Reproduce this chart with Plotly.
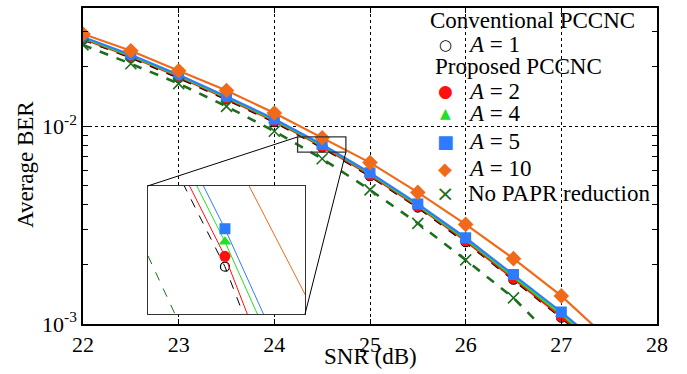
import math
import plotly.graph_objects as go

# ---------------- data ----------------
SNR = [22, 22.5, 23, 23.5, 24, 24.5, 25, 25.5, 26, 26.5, 27, 27.5]
BER_A1 = [0.0275, 0.0223, 0.0176, 0.01370, 0.01052, 0.00783, 0.00561, 0.00389, 0.00260, 0.00168, 0.00108, 0.00067]
BER_A2 = [0.0277, 0.0225, 0.0178, 0.01382, 0.01062, 0.00790, 0.00566, 0.00393, 0.00263, 0.00170, 0.00109, 0.00068]
BER_A4 = [0.0280, 0.0227, 0.0180, 0.01399, 0.01075, 0.00800, 0.00574, 0.00398, 0.00268, 0.00174, 0.00112, 0.00070]
BER_A5 = [0.0283, 0.0230, 0.0182, 0.01416, 0.01088, 0.00809, 0.00582, 0.00405, 0.00273, 0.00178, 0.00115, 0.00072]
BER_A10 = [0.0293, 0.0241, 0.0191, 0.01517, 0.01166, 0.00874, 0.00655, 0.00463, 0.00319, 0.00214, 0.001387, 0.00083]
BER_NOPAPR = [0.0258, 0.0207, 0.01644, 0.0126, 0.00944, 0.00685, 0.00477, 0.00323, 0.00211, 0.001355, 0.00077, 0.00045]

SERIES_NAMES = ["<i>A</i> = 1", "<i>A</i> = 2", "<i>A</i> = 4", "<i>A</i> = 5",
                "<i>A</i> = 10", "No PAPR reduction"]
GROUP_TITLES = ["Conventional PCCNC", "Proposed PCCNC"]

X_TICKS = [22, 23, 24, 25, 26, 27, 28]
Y_TICKS = [1e-3, 1e-2]
Y_TICKTEXT = ["10<sup>-3</sup>", "10<sup>-2</sup>"]
Y_MINOR = [2e-3, 3e-3, 4e-3, 5e-3, 6e-3, 7e-3, 8e-3, 9e-3, 2e-2, 3e-2]

X_RANGE = [22, 28]
Y_LOG_RANGE = [-3, -1.402]

# zoomed region (marked by rectangle) and inset placement
ZOOM_X = [24.243, 24.748]
ZOOM_Y = [0.0074, 0.00883]
INSET_X_RANGE = [24.277, 24.732]
INSET_Y_LOG_RANGE = [-2.124, -2.076]
INSET_DOM_X = [0.1132, 0.3868]
INSET_DOM_Y = [0.0314, 0.4371]

# figure geometry (pixels)
W, H = 687, 374
ML, MR, MT, MB = 83, 30, 6, 50
PW, PH = W - ML - MR, H - MT - MB

FONT = "Liberation Serif"
C_A1 = "black"
C_A2 = "#ff1010"
C_A4 = "#22e022"
C_A5 = "#2d7cff"
C_A10 = "#f06a1a"
C_NP = "#1e6e1e"

STYLE = [
    # color, symbol, dash, marker size, legend glyph, glyph size
    (C_A1, "circle-open", "dash", 9, "○", 15),
    (C_A2, "circle", "solid", 11, "●", 17),
    (C_A4, "triangle-up", "solid", 11, "▲", 14),
    (C_A5, "square", "solid", 11, "■", 18),
    (C_A10, "diamond", "solid", 12, "◆", 18),
    (C_NP, "x-thin", "dash", 11, "×", 22),
]
DATA = [BER_A1, BER_A2, BER_A4, BER_A5, BER_A10, BER_NOPAPR]

fig = go.Figure()

for axes, lw_s, lw_d, mlw in ((("x", "y")), 2.2, 2.6, 1.6), ((("x2", "y2")), 1.0, 1.0, 1.2):
    pass

for (xa, ya, lw_s, lw_d, mlw) in (("x", "y", 2.2, 2.6, 1.6), ("x2", "y2", 1.0, 1.0, 1.2)):
    for data, (col, sym, dash, msz, g, gs) in zip(DATA, STYLE):
        mk = dict(symbol=sym, size=msz, color=col)
        if sym in ("circle-open", "x-thin"):
            mk["line"] = dict(color=col, width=mlw)
        fig.add_trace(go.Scatter(
            x=SNR, y=data, mode="lines+markers", showlegend=False,
            line=dict(color=col, width=lw_s if dash == "solid" else lw_d,
                      dash="dash" if dash == "dash" else "solid"),
            marker=mk, xaxis=xa, yaxis=ya, hoverinfo="skip"))


def xp(v):
    return (v - X_RANGE[0]) / (X_RANGE[1] - X_RANGE[0])


def yp(v):
    return (math.log10(v) - Y_LOG_RANGE[0]) / (Y_LOG_RANGE[1] - Y_LOG_RANGE[0])


def px_x(p):
    return (p - ML) / PW


def px_y(p):
    return (H - MB - p) / PH


rx0, rx1 = xp(ZOOM_X[0]), xp(ZOOM_X[1])
ry0, ry1 = yp(ZOOM_Y[0]), yp(ZOOM_Y[1])

shapes = [
    dict(type="rect", xref="paper", yref="paper", x0=rx0, x1=rx1, y0=ry0, y1=ry1,
         line=dict(color="#333333", width=1.3)),
    dict(type="line", xref="paper", yref="paper", x0=rx0, y0=ry1,
         x1=INSET_DOM_X[0], y1=INSET_DOM_Y[1], line=dict(color="black", width=1)),
    dict(type="line", xref="paper", yref="paper", x0=rx1, y0=ry0,
         x1=INSET_DOM_X[1], y1=INSET_DOM_Y[0], line=dict(color="black", width=1)),
]

# legend built from annotations (pixel layout positions)
LEG_FONT = 23
LEG_SYM_X = 445
LEG_TEXT_X = 466
LEG_TITLE_X = [428, 433]
LEG_TITLE_Y = [19, 65]
LEG_ROW_Y = [43, 90, 112, 140, 168, 193]

annotations = [
    dict(text="SNR (dB)", xref="paper", yref="paper", x=0.5, y=px_y(357),
         xanchor="center", yanchor="middle", showarrow=False,
         font=dict(family=FONT, size=23)),
    dict(text="Average BER", xref="paper", yref="paper", x=px_x(25), y=px_y(164),
         xanchor="center", yanchor="middle", showarrow=False, textangle=-90,
         font=dict(family=FONT, size=23)),
]
for t, tx, ty in zip(GROUP_TITLES, LEG_TITLE_X, LEG_TITLE_Y):
    annotations.append(dict(text=t, xref="paper", yref="paper", x=px_x(tx), y=px_y(ty),
                            xanchor="left", yanchor="middle", showarrow=False,
                            font=dict(family=FONT, size=LEG_FONT)))
for name, ry, (col, sym, dash, msz, g, gs) in zip(SERIES_NAMES, LEG_ROW_Y, STYLE):
    annotations.append(dict(text=name, xref="paper", yref="paper", x=px_x(LEG_TEXT_X),
                            y=px_y(ry), xanchor="left", yanchor="middle", showarrow=False,
                            font=dict(family=FONT, size=LEG_FONT)))
    annotations.append(dict(text=g, xref="paper", yref="paper", x=px_x(LEG_SYM_X),
                            y=px_y(ry), xanchor="center", yanchor="middle", showarrow=False,
                            font=dict(family="DejaVu Sans", size=gs, color=col)))

fig.update_layout(
    width=W, height=H,
    margin=dict(l=ML, r=MR, t=MT, b=MB),
    paper_bgcolor="white", plot_bgcolor="white",
    font=dict(family=FONT, size=22, color="black"),
    showlegend=False,
    xaxis=dict(range=X_RANGE, tickmode="array", tickvals=X_TICKS,
               ticks="inside", ticklen=5, tickcolor="black", mirror="ticks",
               showline=True, linecolor="black", linewidth=1.5,
               showgrid=True, gridcolor="black", griddash="dot", gridwidth=1,
               zeroline=False, tickfont=dict(family=FONT, size=22)),
    yaxis=dict(type="log", range=Y_LOG_RANGE, tickmode="array", tickvals=Y_TICKS,
               ticktext=Y_TICKTEXT, ticks="inside", ticklen=6, tickcolor="black",
               mirror="ticks", showline=True, linecolor="black", linewidth=1.5,
               showgrid=True, gridcolor="black", griddash="dot", gridwidth=1,
               zeroline=False, tickfont=dict(family=FONT, size=22),
               minor=dict(tickmode="array", tickvals=Y_MINOR, ticks="inside",
                          ticklen=5, tickcolor="black", showgrid=False)),
    xaxis2=dict(domain=INSET_DOM_X, anchor="y2", range=INSET_X_RANGE,
                showticklabels=False, ticks="", showgrid=False, zeroline=False,
                showline=True, mirror=True, linecolor="#333333", linewidth=1.3),
    yaxis2=dict(domain=INSET_DOM_Y, anchor="x2", type="log", range=INSET_Y_LOG_RANGE,
                showticklabels=False, ticks="", showgrid=False, zeroline=False,
                showline=True, mirror=True, linecolor="#333333", linewidth=1.3),
    shapes=shapes,
    annotations=annotations,
)

fig.write_html("out.html")
